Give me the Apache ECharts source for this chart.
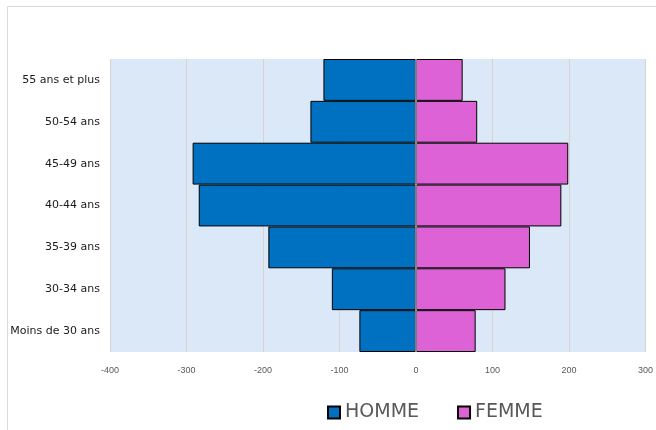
<!DOCTYPE html>
<html>
<head>
<meta charset="utf-8">
<script src="https://cdn.jsdelivr.net/npm/echarts@6/dist/echarts.min.js"></script>
<style>
    html, body { margin: 0; padding: 0; background: #fff; }
    #chart { width: 656px; height: 430px; }
</style>
</head>
<body>
<div id="chart"></div>
<script>
// tranches d'âge (bas -> haut)
var categories = ['Moins de 30 ans', '30-34 ans', '35-39 ans', '40-44 ans', '45-49 ans', '50-54 ans', '55 ans et plus'];
var hommeValues = [74, 110, 193, 284, 292, 138, 121];
var femmeValues = [78, 117, 149, 190, 199, 80, 61];
var xTicks = [-400, -300, -200, -100, 0, 100, 200, 300];

var chart = echarts.init(document.getElementById('chart'));

var labelFont = '"DejaVu Sans", sans-serif';

var option = {
    backgroundColor: '#fff',
    animation: false,
    graphic: [{
        type: 'rect',
        shape: { x: 7.5, y: 6.5, width: 700, height: 500 },
        style: { fill: 'none', stroke: '#d9d9d9', lineWidth: 1 },
        z: -1
    }],
    grid: {
        left: 110, right: 7, top: 59, bottom: 78,
        show: true,
        backgroundColor: '#dbe8f7',
        borderWidth: 0
    },
    legend: {
        left: 322, top: 398,
        itemWidth: 12, itemHeight: 12,
        itemGap: 38,
        icon: 'rect',
        textStyle: { fontSize: 19, color: '#595959', fontFamily: labelFont },
        data: ['HOMME', 'FEMME']
    },
    xAxis: {
        type: 'value',
        min: xTicks[0],
        max: xTicks[xTicks.length - 1],
        interval: 100,
        axisLine: { show: false },
        axisTick: { show: false },
        axisLabel: { color: '#595959', fontSize: 9, margin: 14, fontFamily: '"Liberation Sans", sans-serif' },
        splitLine: { show: true, lineStyle: { color: '#d8d3d3', width: 1 } }
    },
    yAxis: {
        type: 'category',
        data: categories,
        axisLine: { show: false },
        axisTick: { show: false },
        axisLabel: { color: '#1a1a1a', fontSize: 11, margin: 10, fontFamily: labelFont }
    },
    series: [{
        name: 'HOMME',
        type: 'bar',
        stack: 'pyr',
        barCategoryGap: 0,
        data: hommeValues.map(function (v) { return -v; }),
        itemStyle: { color: '#0070c0', borderColor: '#000', borderWidth: 1 },
        markLine: {
            silent: true,
            symbol: 'none',
            label: { show: false },
            lineStyle: { color: '#a6a6a6', type: 'solid', width: 1.5 },
            data: [{ xAxis: 0 }],
            z: 10
        }
    }, {
        name: 'FEMME',
        type: 'bar',
        stack: 'pyr',
        barCategoryGap: 0,
        data: femmeValues,
        itemStyle: { color: '#dd62d5', borderColor: '#000', borderWidth: 1 }
    }]
};

chart.setOption(option);
</script>
</body>
</html>
